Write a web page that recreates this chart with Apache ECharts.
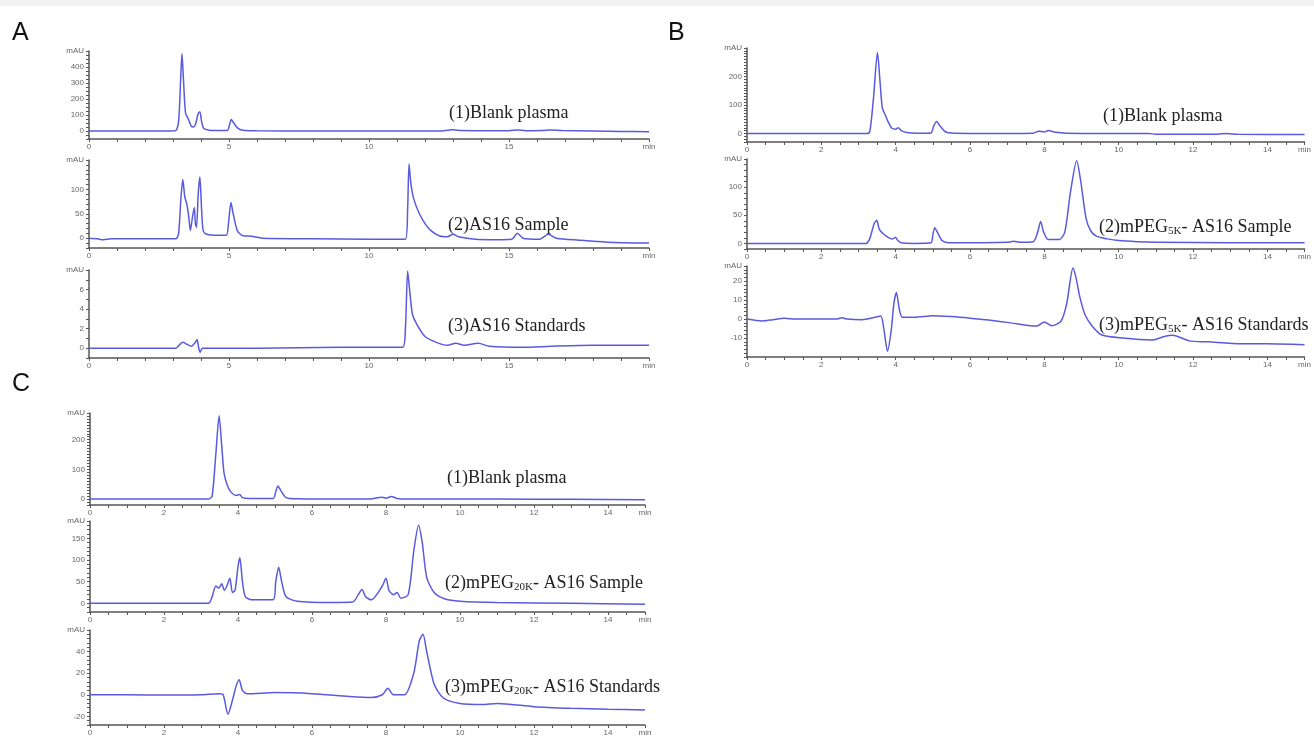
<!DOCTYPE html>
<html>
<head>
<meta charset="utf-8">
<script src="https://cdn.jsdelivr.net/npm/echarts@6/dist/echarts.min.js"></script>
<style>
html, body { margin: 0; padding: 0; background: #fff; }
#main { width: 1314px; height: 737px; }
</style>
</head>
<body>
<div id="main"></div>
<script>
// [time (min), signal (mAU)]
var traceA1 = [[0,0],[2.9,0],[3.1,2],[3.2,60],[3.28,350],[3.32,485],[3.38,300],[3.45,110],[3.55,75],[3.65,30],[3.72,25],[3.8,40],[3.9,110],[3.96,120],[4.02,60],[4.1,15],[4.3,5],[4.6,3],[4.95,5],[5.02,40],[5.08,72],[5.15,55],[5.3,20],[5.5,5],[6,2],[8,0],[10,0],[12.5,0],[12.8,4],[13.0,8],[13.3,3],[14,2],[15,2],[15.3,6],[15.6,2],[16.2,3],[16.5,7],[16.9,3],[18,0],[19,-3],[20,-4]];
var traceA2 = [[0,0],[0.3,-1],[0.5,-3],[0.8,-1],[1.5,-1],[3.1,-1],[3.2,10],[3.28,80],[3.35,120],[3.42,85],[3.5,68],[3.57,40],[3.62,16],[3.7,45],[3.76,63],[3.8,30],[3.84,22],[3.9,90],[3.96,125],[4.02,60],[4.08,15],[4.2,8],[4.5,6],[4.9,6],[4.98,30],[5.07,73],[5.15,50],[5.3,15],[5.5,5],[5.8,4],[6.2,0],[8,-1],[10,-2],[11.3,-2],[11.38,60],[11.43,152],[11.5,110],[11.6,80],[11.8,50],[12,30],[12.2,16],[12.5,5],[12.8,3],[13,8],[13.2,3],[13.8,-2],[14.5,-3],[15.1,-2],[15.3,10],[15.5,0],[16.1,-2],[16.4,8],[16.7,0],[17.5,-4],[18.5,-8],[20,-10]];
var traceA3 = [[0,0],[3.1,0],[3.25,0.4],[3.35,0.6],[3.5,0.4],[3.65,0.2],[3.8,0.6],[3.86,0.9],[3.92,0],[3.97,-0.4],[4.05,0],[6,0],[9,0.1],[10,0.1],[11.2,0.1],[11.3,2],[11.38,7.9],[11.45,6],[11.55,3.5],[11.7,2.5],[12,1.2],[12.4,0.6],[12.8,0.3],[13.1,0.5],[13.4,0.3],[13.9,0.5],[14.3,0.2],[15.5,0.1],[16.5,0.2],[18,0.3],[20,0.3]];

var traceB1 = [[0,0],[3.2,0],[3.3,5],[3.4,120],[3.51,284],[3.58,180],[3.64,90],[3.72,65],[3.8,40],[3.9,18],[4.0,15],[4.07,20],[4.15,10],[4.3,3],[4.6,1],[4.95,2],[5.02,25],[5.1,42],[5.2,25],[5.35,5],[5.6,1],[7,0],[7.7,1],[7.85,8],[8.0,5],[8.1,10],[8.3,4],[8.6,1],[9.5,0],[10.8,0],[11,-3],[12.5,-3],[12.9,0],[13.2,-3],[15,-4]];
var traceB2 = [[0,0],[3.2,0],[3.3,8],[3.42,35],[3.49,41],[3.56,25],[3.65,18],[3.75,13],[3.85,9],[3.92,8],[3.99,11],[4.06,5],[4.15,1],[4.5,0],[4.95,1],[5.0,15],[5.05,28],[5.12,20],[5.25,5],[5.5,1],[7.0,2],[7.18,4],[7.35,2],[7.7,3],[7.82,20],[7.9,39],[7.98,20],[8.1,7],[8.4,7],[8.55,20],[8.7,90],[8.87,147],[8.98,110],[9.12,45],[9.25,22],[9.4,13],[9.7,8],[10,5],[10.5,3],[11,2],[13,1],[15,1]];
var traceB3 = [[0,0],[0.4,-1],[0.7,-0.3],[1.0,0.4],[1.3,0],[2.4,0],[2.55,0.7],[2.7,0],[3.1,-0.3],[3.45,1],[3.6,1.6],[3.68,-5],[3.78,-17],[3.88,-6],[3.95,8],[4.02,14],[4.1,5],[4.18,1],[4.5,1],[5.0,1.8],[5.5,1.3],[6.0,0.5],[6.5,-0.5],[7.1,-2],[7.8,-3.7],[8.0,-1.5],[8.2,-3.5],[8.45,-1],[8.6,8],[8.77,27],[8.85,22],[8.95,12],[9.1,2],[9.3,-4],[9.55,-8.4],[10.1,-10],[10.9,-11],[11.25,-9],[11.45,-8.5],[11.9,-11.5],[12.4,-12],[13.3,-13],[14,-13],[15,-13.5]];

var traceC1 = [[0,0],[3.2,0],[3.3,10],[3.4,150],[3.49,281],[3.56,180],[3.62,90],[3.7,50],[3.8,25],[3.95,12],[4.05,15],[4.12,5],[4.3,2],[4.95,2],[5.02,25],[5.08,44],[5.15,30],[5.3,5],[5.6,1],[7.5,0],[7.9,6],[8.0,3],[8.15,9],[8.3,2],[8.6,0],[11,0],[13,-1],[15,-2]];
var traceC2 = [[0,0],[3.2,0],[3.3,15],[3.4,40],[3.48,35],[3.56,45],[3.63,30],[3.7,40],[3.78,58],[3.85,25],[3.92,30],[4.0,85],[4.05,105],[4.12,50],[4.2,15],[4.4,8],[4.95,8],[5.02,50],[5.1,83],[5.18,50],[5.3,15],[5.6,5],[6.5,2],[7.1,3],[7.25,20],[7.35,32],[7.45,15],[7.6,8],[7.9,40],[8.0,58],[8.08,30],[8.2,20],[8.3,25],[8.4,12],[8.6,20],[8.75,120],[8.88,180],[8.98,140],[9.1,60],[9.3,25],[9.6,10],[10,5],[11,2],[13,0],[15,-2]];
var traceC3 = [[0,0],[1,0],[2,-0.3],[3,0],[3.5,1],[3.6,0],[3.73,-18],[3.85,-5],[3.95,8],[4.03,14],[4.12,4],[4.25,1],[5,2],[6,1],[7,-1.5],[7.6,-2.5],[7.9,0],[8.05,6],[8.2,0],[8.5,0],[8.75,20],[8.9,50],[9.0,56],[9.1,40],[9.3,10],[9.55,-3],[10,-8],[10.6,-9],[11,-8],[11.4,-9],[12,-11],[13,-12.5],[14,-13.5],[15,-14]];

// tick labels
var xLabelsA = [0, 5, 10, 15];
var xLabelsBC = [0, 2, 4, 6, 8, 10, 12, 14];
var yLabelsA1 = [0, 100, 200, 300, 400];
var yLabelsA2 = [0, 50, 100];
var yLabelsA3 = [0, 2, 4, 6];
var yLabelsB1 = [0, 100, 200];
var yLabelsB2 = [0, 50, 100];
var yLabelsB3 = [-10, 0, 10, 20];
var yLabelsC1 = [0, 100, 200];
var yLabelsC2 = [0, 50, 100, 150];
var yLabelsC3 = [-20, 0, 20, 40];

var panels = [
    {data: traceA1, left: 89, width: 560, top: 51, height: 88, xMax: 20, xStep: 1, xLabels: xLabelsA, yMin: -50, yMax: 500, yStep: 25, yLabels: yLabelsA1},
    {data: traceA2, left: 89, width: 560, top: 160, height: 88, xMax: 20, xStep: 1, xLabels: xLabelsA, yMin: -20, yMax: 160, yStep: 10, yLabels: yLabelsA2},
    {data: traceA3, left: 89, width: 560, top: 270, height: 88, xMax: 20, xStep: 1, xLabels: xLabelsA, yMin: -1, yMax: 8, yStep: 1, yLabels: yLabelsA3},
    {data: traceB1, left: 747, width: 564, top: 48, height: 94, xMax: 15, xStep: 0.5, xLabels: xLabelsBC, yMin: -30, yMax: 300, yStep: 10, yLabels: yLabelsB1},
    {data: traceB2, left: 747, width: 564, top: 159, height: 90, xMax: 15, xStep: 0.5, xLabels: xLabelsBC, yMin: -10, yMax: 150, yStep: 10, yLabels: yLabelsB2},
    {data: traceB3, left: 747, width: 564, top: 266, height: 91, xMax: 15, xStep: 0.5, xLabels: xLabelsBC, yMin: -20, yMax: 28, yStep: 2, yLabels: yLabelsB3},
    {data: traceC1, left: 90, width: 555, top: 413, height: 92, xMax: 15, xStep: 0.5, xLabels: xLabelsBC, yMin: -20, yMax: 290, yStep: 10, yLabels: yLabelsC1},
    {data: traceC2, left: 90, width: 555, top: 521, height: 91, xMax: 15, xStep: 0.5, xLabels: xLabelsBC, yMin: -20, yMax: 190, yStep: 10, yLabels: yLabelsC2},
    {data: traceC3, left: 90, width: 555, top: 630, height: 97, xMax: 15, xStep: 0.5, xLabels: xLabelsBC, yMin: -28, yMax: 60, yStep: 4, yLabels: yLabelsC3}
];

function hasLabel(list, v) {
    for (var i = 0; i < list.length; i++) {
        if (Math.abs(list[i] - v) < 1e-6) return true;
    }
    return false;
}

var grids = [], xAxes = [], yAxes = [], series = [];
panels.forEach(function (p, i) {
    grids.push({left: p.left, top: p.top, width: p.width, height: p.height});
    xAxes.push({
        type: 'value', gridIndex: i, min: 0, max: p.xMax, interval: p.xStep,
        axisLine: {show: true, onZero: false, lineStyle: {color: '#555', width: 1.5}},
        axisTick: {show: true, length: 3, lineStyle: {color: '#555'}},
        splitLine: {show: false},
        axisLabel: {
            fontSize: 8, color: '#666', margin: 4, fontFamily: 'Liberation Sans',
            formatter: function (v) {
                if (Math.abs(v - p.xMax) < 1e-6) return 'min';
                return hasLabel(p.xLabels, v) ? String(v) : '';
            }
        }
    });
    yAxes.push({
        type: 'value', gridIndex: i, min: p.yMin, max: p.yMax, interval: p.yStep,
        axisLine: {show: true, onZero: false, lineStyle: {color: '#555', width: 1.5}},
        axisTick: {show: true, length: 3, lineStyle: {color: '#555'}},
        splitLine: {show: false},
        axisLabel: {
            fontSize: 8, color: '#666', margin: 5, fontFamily: 'Liberation Sans',
            formatter: function (v) {
                if (Math.abs(v - p.yMax) < 1e-6) return 'mAU';
                if (v <= p.yMin) return '';
                return hasLabel(p.yLabels, v) ? String(v) : '';
            }
        }
    });
    series.push({
        type: 'line', xAxisIndex: i, yAxisIndex: i, data: p.data,
        showSymbol: false, smooth: 0.25, clip: true,
        lineStyle: {color: '#5a5ae0', width: 1.5}
    });
});

var serif = 'Liberation Serif';
function label(x, y, text) {
    return {
        type: 'text', left: x, top: y - 11,
        style: {
            text: text, font: '18px "' + serif + '"', fill: '#222',
            rich: {s: {fontSize: 11, fontFamily: serif, fill: '#222', padding: [8, 0, 0, 0]}}
        }
    };
}
function letter(x, y, t) {
    return {type: 'text', left: x, top: y, style: {text: t, font: '25px "Liberation Sans"', fill: '#111'}};
}

var option = {
    backgroundColor: '#fff',
    animation: false,
    grid: grids,
    xAxis: xAxes,
    yAxis: yAxes,
    series: series,
    graphic: [
        {type: 'rect', left: 0, top: 0, shape: {width: 1314, height: 6}, style: {fill: '#f3f3f3'}},
        letter(12, 21, 'A'),
        letter(668, 21, 'B'),
        letter(12, 372, 'C'),
        label(449, 115, '(1)Blank plasma'),
        label(448, 227, '(2)AS16 Sample'),
        label(448, 328, '(3)AS16 Standards'),
        label(1103, 118, '(1)Blank plasma'),
        label(1099, 229, '(2)mPEG{s|5K}- AS16 Sample'),
        label(1099, 327, '(3)mPEG{s|5K}- AS16 Standards'),
        label(447, 480, '(1)Blank plasma'),
        label(445, 585, '(2)mPEG{s|20K}- AS16 Sample'),
        label(445, 689, '(3)mPEG{s|20K}- AS16 Standards')
    ]
};

var myChart = echarts.init(document.getElementById('main'));
myChart.setOption(option, true);
</script>
</body>
</html>
